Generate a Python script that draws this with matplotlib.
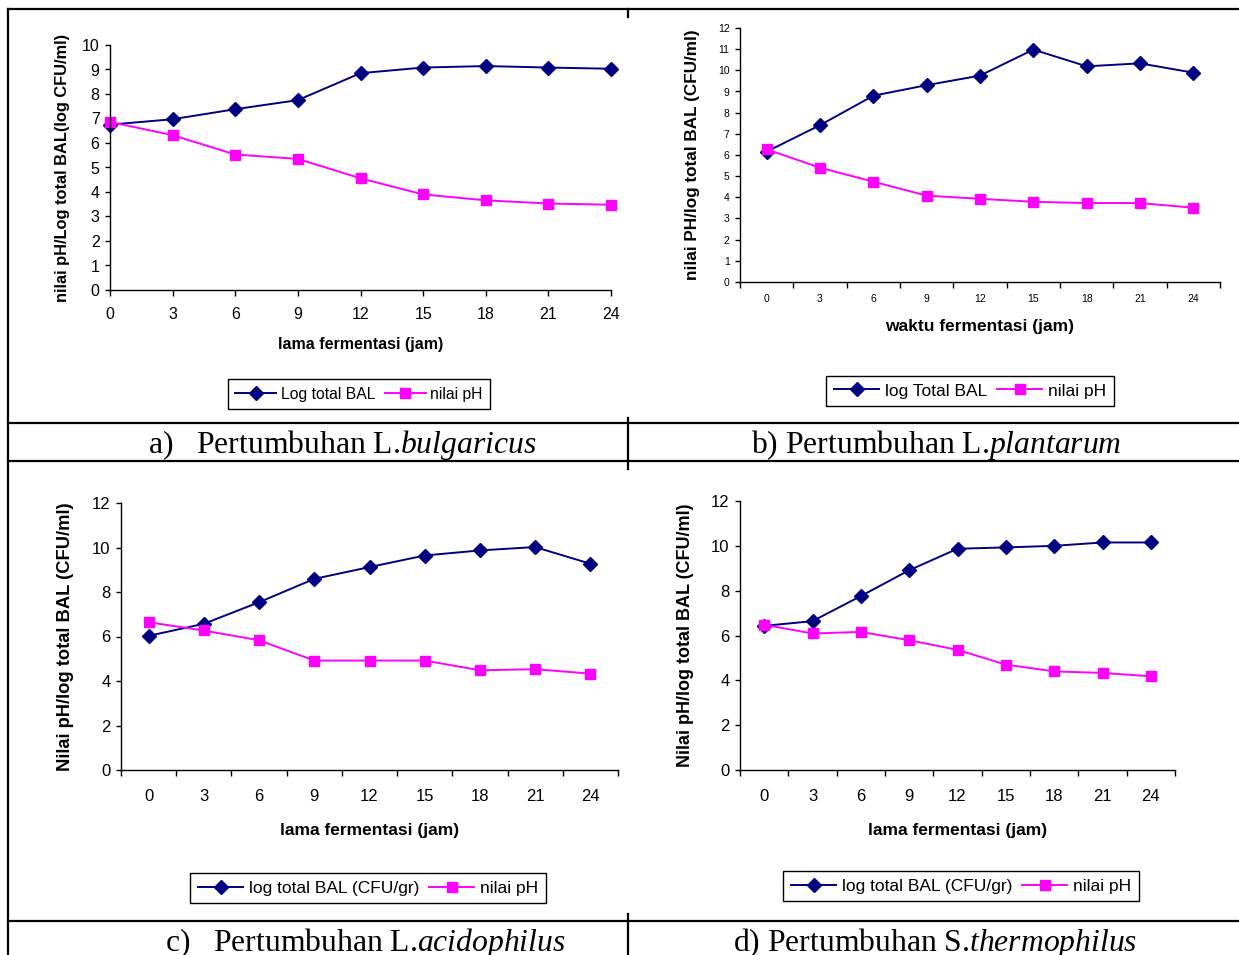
import matplotlib
matplotlib.use("Agg")
import matplotlib.pyplot as plt
from matplotlib.lines import Line2D

plt.rcParams['font.family'] = ['Liberation Sans', 'DejaVu Sans']
plt.rcParams['mathtext.fontset'] = 'custom'
plt.rcParams['mathtext.rm'] = 'Liberation Serif'
plt.rcParams['mathtext.it'] = 'Liberation Serif:italic'

W, H = 1239, 955

jam = [0, 3, 6, 9, 12, 15, 18, 21, 24]

a_bal = [6.75, 6.97, 7.38, 7.75, 8.85, 9.08, 9.14, 9.08, 9.03]
a_ph = [6.86, 6.32, 5.53, 5.35, 4.56, 3.90, 3.66, 3.53, 3.48]
b_bal = [6.16, 7.41, 8.80, 9.30, 9.75, 10.98, 10.19, 10.33, 9.89]
b_ph = [6.27, 5.40, 4.74, 4.08, 3.93, 3.79, 3.73, 3.73, 3.51]
c_bal = [6.03, 6.57, 7.54, 8.59, 9.12, 9.64, 9.87, 10.02, 9.27]
c_ph = [6.64, 6.27, 5.83, 4.92, 4.92, 4.92, 4.48, 4.53, 4.33]
d_bal = [6.43, 6.64, 7.76, 8.91, 9.87, 9.93, 10.00, 10.15, 10.15]
d_ph = [6.48, 6.09, 6.16, 5.79, 5.36, 4.70, 4.40, 4.33, 4.18]

navy = '#000080'
pink = '#FF00FF'


def px(x):
    return x / W


def py(y):
    return 1 - y / H


def panel(fig, box, bal, ph, ylabel, xlabel, leg_names, ymax, ystep,
          tick_fs, ylab_fs, xlab_fs, leg_fs, between, ylab_x, xlab_y, leg_xy, xpad):
    x0, x1, ytop, ybot = box
    ax = fig.add_axes([px(x0), py(ybot), px(x1) - px(x0), py(ytop) - py(ybot)])
    idx = list(range(len(jam)))
    ax.plot(idx, bal, color=navy, marker='D', ms=7.5, lw=1.4, clip_on=False,
            label=leg_names[0])
    ax.plot(idx, ph, color=pink, marker='s', ms=7.5, lw=1.4, clip_on=False,
            label=leg_names[1])
    ax.set_ylim(0, ymax)
    ax.set_yticks(range(0, ymax + 1, ystep))
    for s in ['top', 'right']:
        ax.spines[s].set_visible(False)
    for s in ['left', 'bottom']:
        ax.spines[s].set_linewidth(1.0)
    ax.tick_params(axis='y', direction='out', length=3.5, width=1,
                   labelsize=tick_fs, pad=4)
    if between:
        ax.set_xlim(-0.5, len(jam) - 0.5)
        ax.set_xticks(idx)
        ax.set_xticks([i - 0.5 for i in range(len(jam) + 1)], minor=True)
        ax.tick_params(axis='x', which='major', length=0, labelsize=tick_fs, pad=xpad)
        ax.tick_params(axis='x', which='minor', direction='out', length=4, width=1)
    else:
        ax.set_xlim(0, len(jam) - 1)
        ax.set_xticks(idx)
        ax.tick_params(axis='x', direction='out', length=4, width=1,
                       labelsize=tick_fs, pad=xpad)
    ax.set_xticklabels([str(j) for j in jam])
    ax.set_ylabel(ylabel, fontsize=ylab_fs, fontweight='bold')
    ax.yaxis.set_label_coords(px(ylab_x), 0.5 * (py(ytop) + py(ybot)),
                              transform=fig.transFigure)
    ax.set_xlabel(xlabel, fontsize=xlab_fs, fontweight='bold')
    ax.xaxis.set_label_coords(0.5 * (px(x0) + px(x1)), py(xlab_y),
                              transform=fig.transFigure)
    ax.xaxis.label.set_va('center')
    ax.yaxis.label.set_va('center')
    leg = ax.legend(loc='center', bbox_to_anchor=(px(leg_xy[0]), py(leg_xy[1])),
                    bbox_transform=fig.transFigure, ncol=2, fontsize=leg_fs,
                    fancybox=False, framealpha=1, edgecolor='black',
                    handlelength=2.6, handletextpad=0.3, columnspacing=0.6,
                    borderpad=0.45, markerscale=0.9)
    leg.get_frame().set_linewidth(1.0)
    return ax


fig = plt.figure(figsize=(W / 100, H / 100), dpi=100)

panel(fig, (110, 611, 45, 290), a_bal, a_ph,
      'nilai pH/Log total BAL(log CFU/ml)', 'lama fermentasi (jam)',
      ['Log total BAL', 'nilai pH'], 10, 1, 11.5, 11.8, 11.5, 11.3, False,
      63, 345, (359, 394), 8)
panel(fig, (740, 1220, 28, 282), b_bal, b_ph,
      'nilai PH/log total BAL (CFU/ml)', 'waktu fermentasi (jam)',
      ['log Total BAL', 'nilai pH'], 12, 1, 7.5, 12.3, 12.5, 12.5, True,
      693, 326, (970, 391), 9)
panel(fig, (121, 618, 503, 770), c_bal, c_ph,
      'Nilai pH/log total BAL (CFU/ml)', 'lama fermentasi (jam)',
      ['log total BAL (CFU/gr)', 'nilai pH'], 12, 2, 12, 13.2, 12.5, 12.5, True,
      66, 830, (368, 888), 14)
panel(fig, (740, 1175, 501, 770), d_bal, d_ph,
      'Nilai pH/log total BAL (CFU/ml)', 'lama fermentasi (jam)',
      ['log total BAL (CFU/gr)', 'nilai pH'], 12, 2, 12, 13, 12.5, 12.5, True,
      685, 830, (961, 886), 14)

# table borders
segs = [
    ((8, 1239), (9, 9)),
    ((8, 8), (9, 955)),
    ((628, 628), (9, 17)),
    ((628, 628), (418, 469)),
    ((628, 628), (914, 955)),
    ((8, 1239), (423, 423)),
    ((8, 1239), (461, 461)),
    ((8, 1239), (921, 921)),
]
for xs, ys in segs:
    fig.add_artist(Line2D([px(x) for x in xs], [py(y) for y in ys],
                          transform=fig.transFigure, color='black', lw=1.6))

# captions
cap_fs = 22.8
fig.text(px(148), py(453), r'a)   Pertumbuhan L.$\mathit{bulgaricus}$',
         family='Liberation Serif', fontsize=cap_fs, va='baseline')
fig.text(px(751), py(453), r'b) Pertumbuhan L.$\mathit{plantarum}$',
         family='Liberation Serif', fontsize=cap_fs, va='baseline')
fig.text(px(165), py(951), r'c)   Pertumbuhan L.$\mathit{acidophilus}$',
         family='Liberation Serif', fontsize=cap_fs, va='baseline')
fig.text(px(733), py(951), r'd) Pertumbuhan S.$\mathit{thermophilus}$',
         family='Liberation Serif', fontsize=cap_fs, va='baseline')

fig.savefig('out.png', dpi=100)
